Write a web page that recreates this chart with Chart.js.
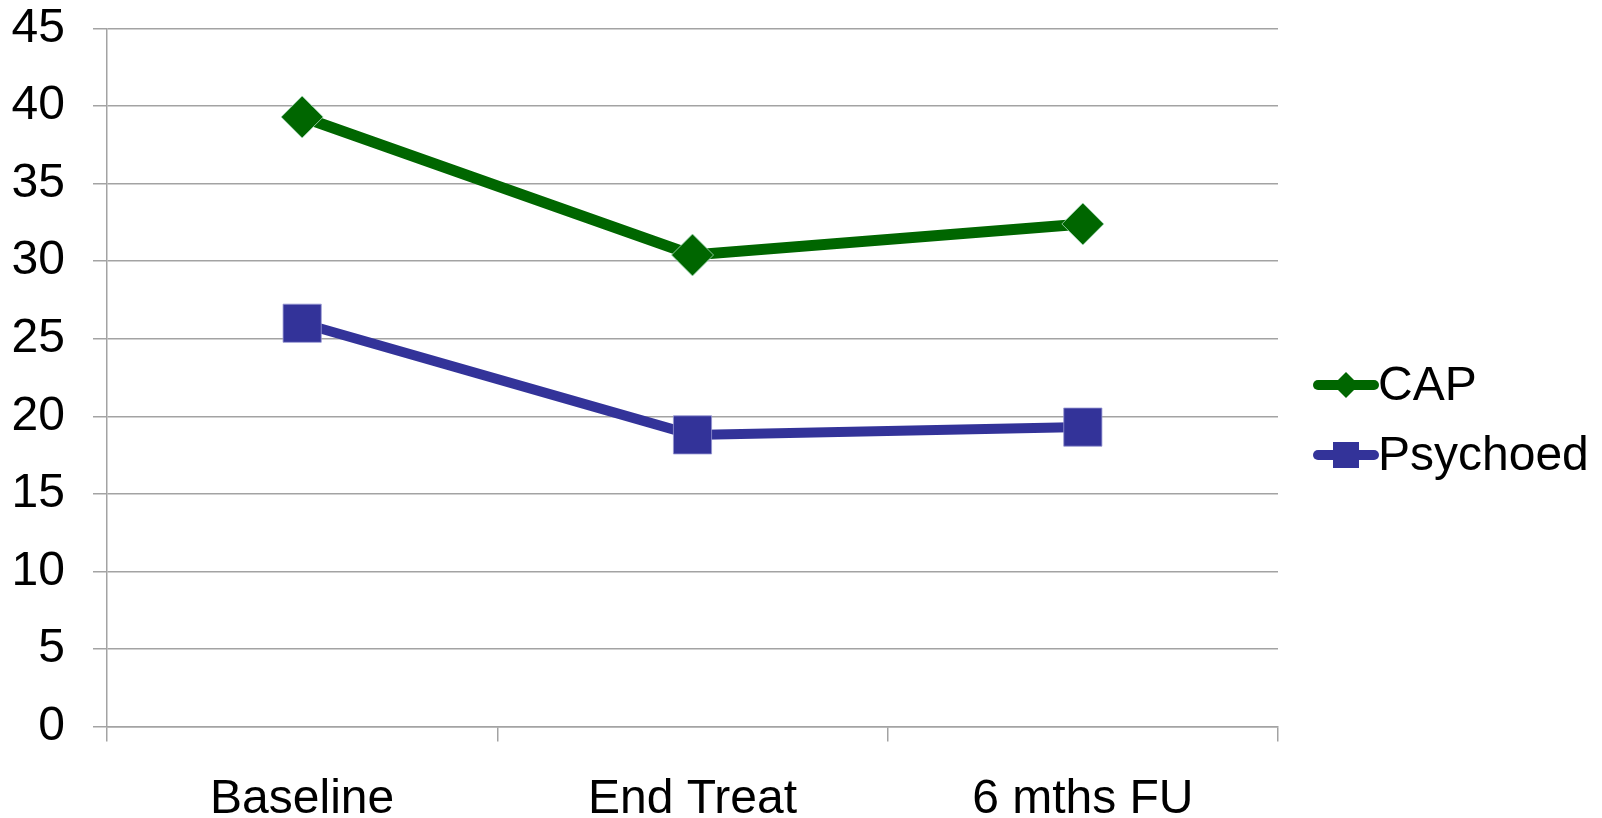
<!DOCTYPE html>
<html>
<head>
<meta charset="utf-8">
<script src="https://cdn.jsdelivr.net/npm/chart.js@4/dist/chart.umd.min.js"></script>
<style>
  html, body { margin: 0; padding: 0; background: #fff; }
  #wrap { width: 1602px; height: 818px; }
</style>
</head>
<body>
<div id="wrap"><canvas id="c" width="1602" height="818"></canvas></div>
<script>
// Time points and group means
const categories = ['Baseline', 'End Treat', '6 mths FU'];
const capValues = [39.3, 30.4, 32.4];
const psychoedValues = [26.0, 18.8, 19.3];
const yTicks = [0, 5, 10, 15, 20, 25, 30, 35, 40, 45];

const FONT = '"Liberation Sans", Arial, sans-serif';
const FONT_SIZE = 48;
const GRID = '#a3a3a3';

// Legend on the right: a short line with the series marker, then the label
const sideLegend = {
  id: 'sideLegend',
  afterDraw(chart) {
    const ctx = chart.ctx;
    const area = chart.chartArea;
    const x0 = area.right + 40;
    const rows = [385, 455];
    ctx.save();
    chart.data.datasets.forEach((ds, i) => {
      const y = rows[i];
      ctx.strokeStyle = ds.borderColor;
      ctx.lineWidth = 10;
      ctx.lineCap = 'round';
      ctx.beginPath();
      ctx.moveTo(x0, y);
      ctx.lineTo(x0 + 56, y);
      ctx.stroke();
      const cx = x0 + 28;
      ctx.fillStyle = ds.backgroundColor;
      ctx.beginPath();
      if (ds.pointStyle === 'rectRot') {
        const r = 13;
        ctx.moveTo(cx - r, y); ctx.lineTo(cx, y - r);
        ctx.lineTo(cx + r, y); ctx.lineTo(cx, y + r);
      } else {
        const h = 13;
        ctx.rect(cx - h, y - h, 2 * h, 2 * h);
      }
      ctx.closePath();
      ctx.fill();
      ctx.fillStyle = '#000';
      ctx.font = FONT_SIZE + 'px ' + FONT;
      ctx.textAlign = 'left';
      ctx.textBaseline = 'middle';
      ctx.fillText(ds.label, x0 + 60, y + 2);
    });
    ctx.restore();
  }
};

new Chart(document.getElementById('c'), {
  type: 'line',
  data: {
    labels: categories,
    datasets: [
      {
        label: 'CAP',
        data: capValues,
        borderColor: '#006600',
        backgroundColor: '#006600',
        borderWidth: 11,
        pointStyle: 'rectRot',
        pointRadius: 21,
        pointBorderColor: 'rgba(170,220,190,0.8)',
        pointBorderWidth: 1,
        tension: 0
      },
      {
        label: 'Psychoed',
        data: psychoedValues,
        borderColor: '#333399',
        backgroundColor: '#333399',
        borderWidth: 10,
        pointStyle: 'rect',
        pointRadius: 27,
        pointBorderColor: 'rgba(150,150,210,0.8)',
        pointBorderWidth: 1,
        tension: 0
      }
    ]
  },
  options: {
    responsive: false,
    animation: false,
    events: [],
    layout: { padding: { top: 28.6, right: 324, left: 0, bottom: 0 } },
    plugins: {
      legend: { display: false },
      tooltip: { enabled: false }
    },
    scales: {
      x: {
        offset: true,
        grid: {
          offset: true,
          drawOnChartArea: false,
          drawTicks: true,
          tickLength: 15,
          color: GRID,
          lineWidth: 1.5
        },
        border: { display: true, color: GRID, width: 1.5 },
        ticks: {
          color: '#000',
          font: { family: FONT, size: FONT_SIZE },
          padding: 30,
          maxRotation: 0
        },
        afterFit(scale) {
          scale.height = 91.6;
          scale.paddingLeft = 0;
          scale.paddingRight = 0;
        }
      },
      y: {
        min: 0,
        max: 45,
        afterBuildTicks(scale) { scale.ticks = yTicks.map(v => ({ value: v })); },
        grid: {
          color: GRID,
          lineWidth: 1.5,
          tickLength: 14,
          drawTicks: true
        },
        border: { display: true, color: GRID, width: 1.5 },
        ticks: {
          color: '#000',
          font: { family: FONT, size: FONT_SIZE },
          padding: 28
        },
        afterFit(scale) {
          scale.width = 107;
          scale.paddingTop = 0;
          scale.paddingBottom = 0;
        }
      }
    }
  },
  plugins: [sideLegend]
});
</script>
</body>
</html>
